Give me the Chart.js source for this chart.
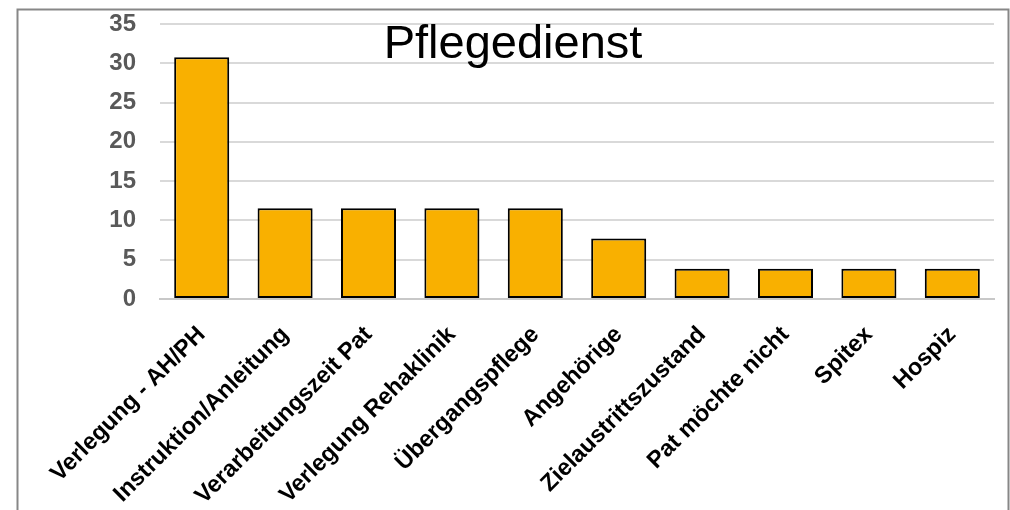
<!DOCTYPE html>
<html>
<head>
<meta charset="utf-8">
<script src="https://cdn.jsdelivr.net/npm/chart.js@4/dist/chart.umd.min.js"></script>
<style>
  html, body { margin: 0; padding: 0; background: #fff; }
  #wrap { position: relative; width: 1010px; height: 510px; }
</style>
</head>
<body>
<div id="wrap"><canvas id="c" width="1010" height="510"></canvas></div>
<script>
// Gründe (Pflegedienst), Anteil in %
const categories = [
  'Verlegung - AH/PH',
  'Instruktion/Anleitung',
  'Verarbeitungszeit Pat',
  'Verlegung Rehaklinik',
  'Übergangspflege',
  'Angehörige',
  'Zielaustrittszustand',
  'Pat möchte nicht',
  'Spitex',
  'Hospiz'
];
const values = [30.77, 11.54, 11.54, 11.54, 11.54, 7.69, 3.85, 3.85, 3.85, 3.85];
const yTicks = [0, 5, 10, 15, 20, 25, 30, 35];
const chartTitle = 'Pflegedienst';

const FONT = "'Liberation Sans', Arial, sans-serif";

// Frame around the whole chart and the title placed inside the plot
const framePlugin = {
  id: 'frame',
  beforeDraw(chart) {
    const ctx = chart.ctx;
    ctx.save();
    ctx.fillStyle = '#ffffff';
    ctx.fillRect(0, 0, chart.width, chart.height);
    ctx.strokeStyle = '#878787';
    ctx.lineWidth = 2;
    ctx.strokeRect(17.5, 9.5, 991, 600);
    ctx.restore();
  },
  afterDraw(chart) {
    const ctx = chart.ctx;
    ctx.save();
    ctx.font = '47px ' + FONT;
    ctx.fillStyle = '#000000';
    ctx.textAlign = 'center';
    ctx.textBaseline = 'alphabetic';
    ctx.fillText(chartTitle, 513, 58);
    ctx.restore();
  }
};

new Chart(document.getElementById('c'), {
  type: 'bar',
  data: {
    labels: categories,
    datasets: [{
      data: values,
      backgroundColor: '#F9B000',
      borderColor: '#000000',
      borderWidth: 2,
      borderSkipped: false,
      categoryPercentage: 1,
      barPercentage: 0.66
    }]
  },
  options: {
    responsive: false,
    animation: false,
    devicePixelRatio: 1,
    layout: { padding: { top: 24, right: 16, left: 0, bottom: 0 } },
    plugins: {
      legend: { display: false },
      tooltip: { enabled: false },
      title: { display: false }
    },
    scales: {
      x: {
        grid: { display: false, drawTicks: false },
        border: { display: true, color: '#c8c8c8', width: 2 },
        ticks: {
          color: '#000000',
          font: { family: FONT, size: 23.5, weight: 'bold' },
          minRotation: 45,
          maxRotation: 45,
          autoSkip: false,
          padding: 22
        },
        afterFit(scale) { scale.height = 211; }
      },
      y: {
        min: 0,
        max: 35,
        afterBuildTicks(scale) { scale.ticks = yTicks.map(v => ({ value: v })); },
        grid: { color: '#d9d9d9', lineWidth: 2, drawTicks: false },
        border: { display: false },
        ticks: {
          color: '#595959',
          font: { family: FONT, size: 24, weight: 'bold' },
          padding: 24
        },
        afterFit(scale) {
          scale.width = 160;
          scale.paddingTop = 12;
          scale.paddingBottom = 12;
        }
      }
    }
  },
  plugins: [framePlugin]
});
</script>
</body>
</html>
